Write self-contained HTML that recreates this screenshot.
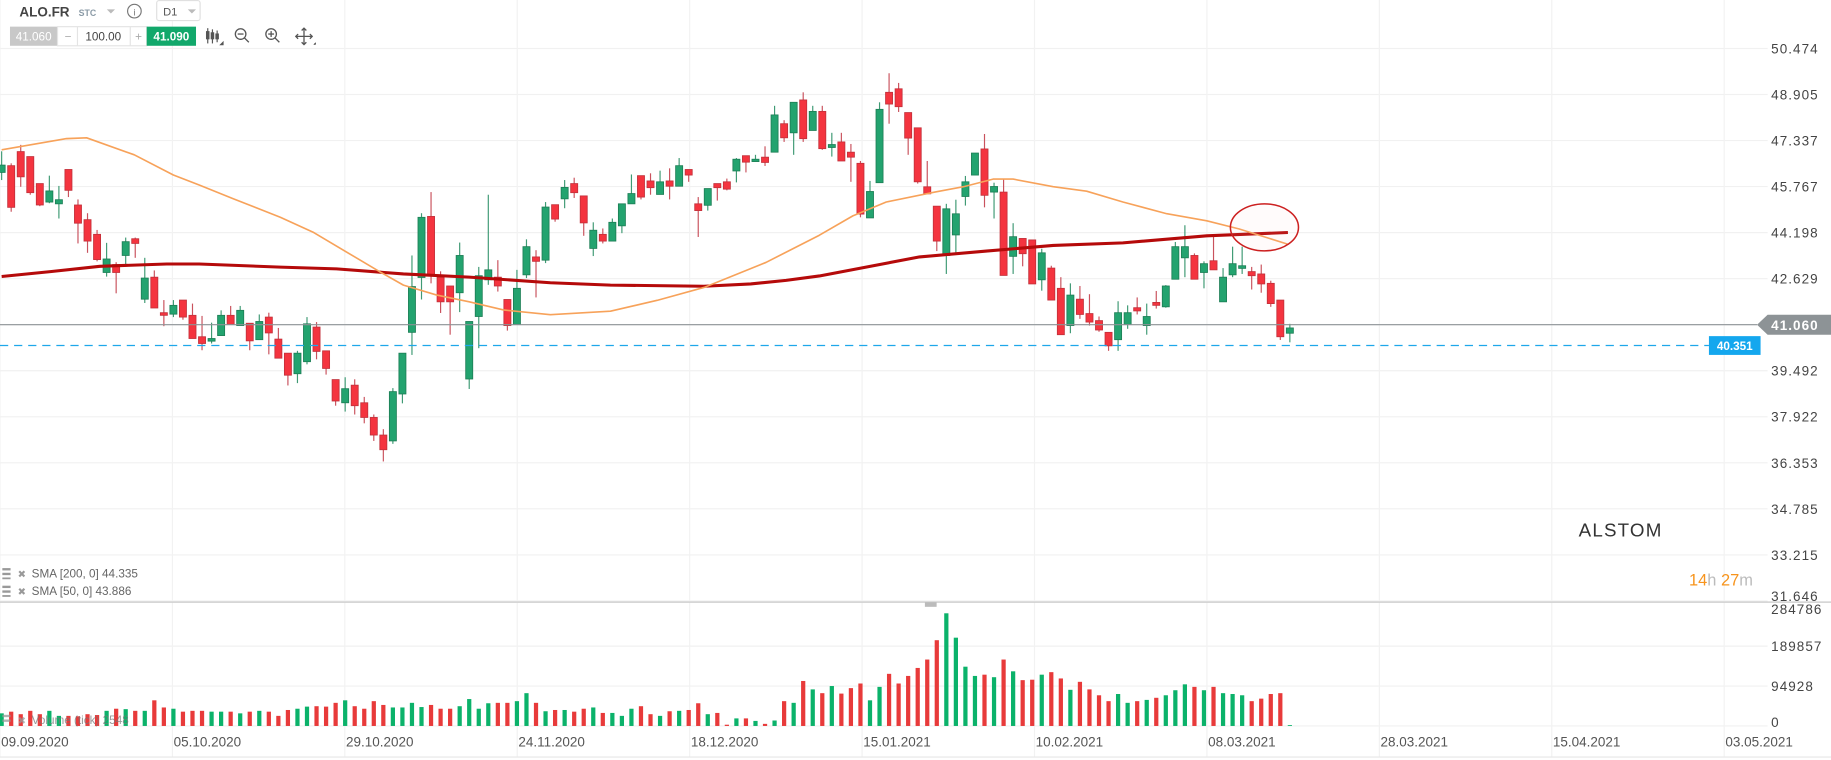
<!DOCTYPE html>
<html><head><meta charset="utf-8"><style>
html,body{margin:0;padding:0;background:#fff;overflow:hidden}
svg{display:block;font-family:"Liberation Sans",Arial,sans-serif}
</style></head><body>
<svg id="chart" width="1831" height="760" viewBox="0 0 1560 647.5" preserveAspectRatio="none">
<g id="grid"></g>
<g id="vol"></g>
<g id="candles"></g>
<g id="smas"></g>
<g id="axes"></g>
<line x1="0" y1="513" x2="1560" y2="513" stroke="#d0d0d0" stroke-width="1.2"/>
<rect x="788" y="513" width="10" height="4" fill="#bbb"/>
<line x1="0" y1="645" x2="1560" y2="645" stroke="#e6e6e6" stroke-width="1"/>
<ellipse cx="1077.3" cy="193.7" rx="29" ry="20" fill="rgba(255,200,200,0.07)" stroke="#cc2020" stroke-width="1.3"/>
<g>
<text x="16.5" y="14" font-size="11.5" font-weight="bold" fill="#444">ALO.FR</text>
<text x="67" y="13.5" font-size="7.5" font-weight="bold" fill="#8a9aa6">STC</text>
<path d="M91 8 L98 8 L94.5 11.5 Z" fill="#bbb"/>
<g><circle cx="114.5" cy="9.5" r="5.8" fill="none" stroke="#777" stroke-width="1"/><text x="114.5" y="13" font-size="8" text-anchor="middle" fill="#777">i</text></g>
<g><rect x="133.5" y="0.5" width="37" height="17" rx="2" fill="#fff" stroke="#e0e0e0"/><text x="139" y="13" font-size="9.5" fill="#555">D1</text><path d="M160 8 L167 8 L163.5 11.5 Z" fill="#bbb"/></g>
<g><rect x="8.5" y="22.7" width="40.5" height="16.3" fill="#c8c8c8"/><text x="28.7" y="34.5" font-size="10" text-anchor="middle" fill="#fff">41.060</text></g>
<g><rect x="49" y="22.7" width="76" height="16.3" fill="#fff" stroke="#e4e4e4"/><line x1="66" y1="22.7" x2="66" y2="39" stroke="#e4e4e4"/><line x1="111" y1="22.7" x2="111" y2="39" stroke="#e4e4e4"/><text x="58" y="34.5" font-size="10" text-anchor="middle" fill="#aaa">−</text><text x="88" y="34.5" font-size="10" text-anchor="middle" fill="#444">100.00</text><text x="118" y="34.5" font-size="10" text-anchor="middle" fill="#aaa">+</text></g>
<g><rect x="125" y="22.7" width="42" height="16.3" fill="#12a86b"/><text x="146" y="34.5" font-size="10" text-anchor="middle" fill="#fff" font-weight="bold">41.090</text></g>
<g stroke="#555" stroke-width="1"><line x1="177" y1="24" x2="177" y2="37"/><rect x="176" y="27" width="2" height="6" fill="#555"/><line x1="181" y1="25" x2="181" y2="37"/><rect x="180" y="28" width="2" height="5" fill="#555"/><line x1="185" y1="26" x2="185" y2="36"/><rect x="184" y="29" width="2" height="4" fill="#555"/><path d="M188 38 L190 38 L190 36Z" fill="#222"/></g>
<g stroke="#555" stroke-width="1.1" fill="none"><circle cx="205" cy="29" r="4.5"/><line x1="208.3" y1="32.3" x2="212" y2="36"/><line x1="202.5" y1="29" x2="207.5" y2="29"/></g>
<g stroke="#555" stroke-width="1.1" fill="none"><circle cx="231" cy="29" r="4.5"/><line x1="234.3" y1="32.3" x2="238" y2="36"/><line x1="228.5" y1="29" x2="233.5" y2="29"/><line x1="231" y1="26.5" x2="231" y2="31.5"/></g>
<g stroke="#555" stroke-width="1.1" fill="none"><line x1="252" y1="31" x2="266" y2="31"/><line x1="259" y1="24" x2="259" y2="38"/><path d="M257 26 L259 24 L261 26 M257 36 L259 38 L261 36 M254 29 L252 31 L254 33 M264 29 L266 31 L264 33"/><path d="M267 38 L269 38 L269 36Z" fill="#222" stroke="none"/></g>
</g>
<g><rect x="2" y="484" width="7" height="2" fill="#999"/><rect x="2" y="488" width="7" height="2" fill="#999"/><rect x="2" y="492" width="7" height="1.5" fill="#999"/><text x="15" y="492" font-size="8.5" fill="#999">✖</text><text x="27" y="492" font-size="10" fill="#666">SMA [200, 0] 44.335</text></g>
<g><rect x="2" y="499" width="7" height="2" fill="#999"/><rect x="2" y="503" width="7" height="2" fill="#999"/><rect x="2" y="507" width="7" height="1.5" fill="#999"/><text x="15" y="507" font-size="8.5" fill="#999">✖</text><text x="27" y="507" font-size="10" fill="#666">SMA [50, 0] 43.886</text></g>
<g opacity="0.75"><rect x="2" y="609" width="7" height="2" fill="#999"/><rect x="2" y="613" width="7" height="2" fill="#999"/><text x="15" y="617" font-size="8.5" fill="#999">✖</text><text x="27" y="617" font-size="10" fill="#777">Volume (tick) 2548</text></g>
<text x="1345" y="457" font-size="16" letter-spacing="1" fill="#333">ALSTOM</text>
<text x="1439" y="499" font-size="14"><tspan fill="#f7941d">14</tspan><tspan fill="#bbb">h </tspan><tspan fill="#f7941d">27</tspan><tspan fill="#bbb">m</tspan></text>
</svg>
<script>
const opens=[46.25,46.48,46.96,46.79,45.87,45.24,45.18,46.35,45.14,44.64,44.14,42.84,43.11,43.42,43.99,41.93,42.68,41.47,41.42,41.90,41.38,40.65,40.50,40.69,41.38,41.03,41.11,40.55,41.32,40.57,40.09,39.39,39.80,40.98,40.17,39.19,38.40,39.00,38.40,37.90,37.30,37.10,38.70,40.80,42.67,44.75,42.68,42.38,42.15,39.21,41.34,42.59,42.68,41.92,41.07,42.76,43.37,43.26,45.15,45.35,45.87,45.45,43.66,44.14,43.91,44.43,45.18,46.14,45.96,45.50,45.96,45.78,46.35,45.18,45.13,45.87,45.93,46.30,46.82,46.62,46.77,46.94,47.91,47.60,48.72,47.68,48.33,47.10,47.29,46.94,46.56,44.70,45.90,48.98,49.10,48.29,47.77,45.76,45.10,43.42,44.12,45.43,46.16,47.05,45.58,45.58,43.39,44.00,43.95,42.59,42.99,42.30,41.03,41.93,41.44,41.20,40.80,40.55,41.07,41.64,41.03,41.82,41.67,42.61,43.34,43.42,42.84,43.24,41.84,42.76,42.98,42.87,42.79,42.47,41.90,40.77];
const closes=[46.50,45.06,46.10,45.56,45.14,45.62,45.32,45.64,44.52,43.91,43.28,43.30,42.84,43.89,43.83,42.65,41.63,41.38,41.72,41.32,40.59,40.42,40.59,41.38,41.07,41.55,40.51,41.17,40.78,39.92,39.34,40.09,41.09,40.15,39.57,38.46,38.88,38.30,37.90,37.30,36.80,38.78,40.09,42.36,44.72,42.73,41.84,41.84,43.42,41.17,42.73,42.93,42.38,41.03,42.30,43.72,43.22,45.07,44.66,45.74,45.56,44.53,44.28,43.91,44.55,45.18,45.53,45.41,45.73,45.93,45.78,46.48,46.16,44.95,45.70,45.73,45.68,46.70,46.60,46.70,46.59,48.21,47.43,48.64,47.40,48.33,47.06,47.20,46.64,46.77,44.83,45.60,48.40,48.58,48.49,47.42,45.93,45.52,43.91,45.01,44.84,45.93,46.91,45.47,45.77,42.74,44.06,43.48,42.45,43.51,41.90,40.72,42.07,41.41,41.15,40.88,40.34,41.47,41.47,41.53,41.34,41.72,42.38,43.72,43.72,42.61,43.14,42.93,42.68,43.14,43.07,42.73,42.45,41.78,40.65,40.95];
const highs=[46.97,46.56,47.19,46.79,45.87,46.14,45.79,46.35,45.33,44.86,44.29,43.85,43.19,44.03,44.03,43.34,42.91,41.90,41.90,41.90,41.78,41.36,41.13,41.55,41.70,41.70,41.11,41.41,41.47,40.95,40.09,40.17,41.32,41.15,40.17,39.19,39.27,39.20,38.60,38.00,37.50,38.90,40.09,43.42,44.86,45.58,42.88,42.38,43.86,41.17,43.03,45.49,43.26,41.92,42.93,43.97,43.60,45.24,45.15,45.99,46.07,45.45,44.55,44.34,44.68,45.18,46.18,46.14,46.22,46.31,46.39,46.74,46.35,45.41,45.70,45.87,46.04,46.74,46.82,46.85,47.14,48.52,48.03,48.64,48.98,48.52,48.52,47.60,47.60,47.22,46.64,45.96,48.64,49.63,49.30,48.29,47.77,46.64,45.10,45.18,45.32,46.13,46.91,47.56,45.90,46.04,44.52,44.00,43.95,43.65,43.07,42.68,42.47,42.38,42.10,41.34,40.80,41.86,41.72,41.99,41.78,42.21,42.41,43.88,44.45,43.49,43.22,44.09,42.99,43.72,43.72,43.03,43.11,42.56,41.90,41.09];
const lows=[45.99,44.91,45.76,45.49,45.10,45.20,44.68,45.41,43.83,43.51,43.22,42.70,42.13,43.11,43.34,41.80,41.63,41.01,41.32,41.23,40.59,40.19,40.42,40.69,41.07,41.03,40.19,40.55,40.05,39.92,38.99,39.07,39.71,39.88,39.36,38.30,38.10,38.00,37.70,37.10,36.40,37.00,38.38,40.03,41.92,42.47,41.46,40.72,41.49,38.87,40.26,42.42,42.19,40.86,41.07,42.65,41.99,43.16,44.57,45.03,45.38,44.09,43.40,43.83,43.91,44.18,45.18,45.33,45.49,45.50,45.33,45.78,45.93,44.05,44.95,45.29,45.64,45.91,46.25,46.62,46.47,46.94,47.29,46.85,47.29,47.68,47.02,46.79,46.64,45.93,44.72,44.70,45.90,47.91,48.31,46.85,45.87,45.52,43.57,42.79,43.51,45.12,46.16,45.06,44.68,42.74,42.79,43.05,42.45,42.22,41.90,40.72,40.77,41.26,41.03,40.82,40.17,40.17,40.92,41.41,40.72,41.61,41.64,42.61,42.68,42.61,42.30,42.93,41.84,42.68,42.79,42.26,42.15,41.67,40.54,40.46];
const volumesK=[30,34,28,36,28,36,24,24,23,28,26,36,41,40,36,36,61,44,41,34,36,36,34,34,34,30,34,36,34,24,38,41,46,47,46,55,61,47,41,59,50,44,44,55,45,50,41,41,47,64,41,54,55,55,59,78,55,35,38,38,34,41,44,31,31,24,41,47,28,24,35,36,38,54,28,31,3,18,18,12,5,13,59,55,107,87,78,95,77,90,101,61,93,124,101,119,138,158,204,268,210,141,119,122,116,158,130,109,110,122,128,113,86,105,87,73,59,76,55,59,62,67,73,85,99,93,85,93,78,76,73,59,65,76,78,2];
const sma50Idx=[0,6.8,8.9,13.9,18,20.7,24.3,29.2,32.7,36.9,39.6,42.1,45.6,49,52.6,57.5,63.8,68.7,73.6,80.1,85.7,89.2,92.7,97.8,100.8,103.9,106,110.2,113.7,117.5,122.1,126.3,129.7,134.8];
const sma50Val=[47.02,47.40,47.43,46.85,46.16,45.82,45.35,44.72,44.20,43.39,42.87,42.41,42.07,41.84,41.56,41.40,41.52,41.89,42.33,43.18,44.11,44.77,45.24,45.58,45.76,46.02,46.02,45.76,45.61,45.24,44.84,44.60,44.32,43.80];
const sma200Idx=[0,5.1,10.3,17.3,20.7,29.2,35.1,42.1,49,57.5,63.8,73.6,78.5,82.2,85.7,91,96.2,103.2,110.2,117.5,126.3,134.8];
const sma200Val=[42.70,42.87,43.05,43.13,43.13,43.02,42.96,42.79,42.68,42.49,42.41,42.37,42.45,42.57,42.72,43.05,43.37,43.57,43.76,43.85,44.09,44.20];
const priceTicks=[50.474,48.905,47.337,45.767,44.198,42.629,39.492,37.922,36.353,34.785,33.215,31.646];
const volTicks=[284786,189857,94928,0];
const dateLabels=["09.09.2020","05.10.2020","29.10.2020","24.11.2020","18.12.2020","15.01.2021","10.02.2021","08.03.2021","28.03.2021","15.04.2021","03.05.2021"];
const lastPrice=41.060, minLine=40.351;

const NS="http://www.w3.org/2000/svg";
const xS=i=>1.4+8.13*i;
const yS=p=>41.3+(50.474-p)*25.0;
const vS=v=>618.5-v/94928*34;
function mk(tag,attrs,parent){const e=document.createElementNS(NS,tag);for(const k in attrs)e.setAttribute(k,attrs[k]);parent.appendChild(e);return e;}
const G=id=>document.getElementById(id);
const grid=G('grid'),vol=G('vol'),cg=G('candles'),sg=G('smas'),ax=G('axes');

priceTicks.concat([lastPrice]).forEach(p=>{
 const l=mk('line',{x1:0,x2:1506,y1:yS(p),y2:yS(p),stroke:'#f1f1f1','stroke-width':1},grid);
 
 
});
volTicks.slice(1).forEach(v=>{
 const l=mk('line',{x1:0,x2:1506,y1:vS(v),y2:vS(v),stroke:'#f1f1f1','stroke-width':1},grid);
 
 
});
dateLabels.forEach((d,k)=>{
 const x=k*146.9;
 const l=mk('line',{x1:x,x2:x,y1:0,y2:645,stroke:'#f2f2f2','stroke-width':1},grid);
 
 
 const t=mk('text',{x:x+1,y:636,'font-size':11.5,fill:'#555'},ax);
 t.textContent=d;
 
 
});
priceTicks.forEach(p=>{
 const y=Math.min(yS(p),508);
 const t=mk('text',{x:1509,y:y+4.2,'font-size':11.5,'letter-spacing':0.9,fill:'#444'},ax);
 t.textContent=p.toFixed(3);
 
 
});
volTicks.forEach(v=>{
 const y=Math.max(vS(v),519);
 const t=mk('text',{x:1509,y:(v===0?615:y)+4.2,'font-size':11.5,'letter-spacing':0.9,fill:'#444'},ax);
 t.textContent=String(v);
 
 
});
const pl=mk('line',{x1:0,x2:1497,y1:yS(lastPrice),y2:yS(lastPrice),stroke:'#8d9396','stroke-width':1},ax);


const yl=yS(lastPrice);
const pb=mk('path',{d:`M1497 ${yl} L1506 ${yl-8.5} L1560 ${yl-8.5} L1560 ${yl+8.5} L1506 ${yl+8.5} Z`,fill:'#8d9396'},ax);


const pt=mk('text',{x:1509,y:yl+4.5,'font-size':11.5,'letter-spacing':0.9,fill:'#fff','font-weight':'bold'},ax);
pt.textContent=lastPrice.toFixed(3);


const ym=yS(minLine);
const ml=mk('line',{x1:0,x2:1456,y1:ym,y2:ym,stroke:'#1ea7ea','stroke-width':1,'stroke-dasharray':'7,5'},ax);


const mb=mk('rect',{x:1456,y:ym-8,width:44,height:16,fill:'#14a7ee'},ax);


const mt=mk('text',{x:1478,y:ym+4,'font-size':10,'text-anchor':'middle',fill:'#fff','font-weight':'bold'},ax);
mt.textContent=minLine.toFixed(3);



opens.forEach((o,i)=>{
 const c=closes[i],h=highs[i],l=lows[i],up=c>=o,x=xS(i);
 const w=mk('line',{x1:x,x2:x,y1:yS(h),y2:yS(l),stroke:up?'#3f9a74':'#c9525d','stroke-width':1},cg);
 
 
 const top=yS(Math.max(o,c)),bot=yS(Math.min(o,c));
 const b=mk('rect',{x:x-3,y:top,width:6,height:Math.max(bot-top,1.2),fill:up?'#23a36f':'#f4343f',stroke:up?'#1c7e55':'#c2303a','stroke-width':0.7},cg);
 
 
 const v=volumesK[i]*1000;
 const vb=mk('rect',{x:x-1.8,y:vS(v),width:3.6,height:vS(0)-vS(v),fill:up?'#0bb26a':'#e83a3a'},vol);
 
 
});
function line(idx,vals,color,wd,name){
 const d=idx.map((i,k)=>(k?'L':'M')+xS(i).toFixed(1)+' '+yS(vals[k]).toFixed(1)).join(' ');
 const p=mk('path',{d:d,fill:'none',stroke:color,'stroke-width':wd,'stroke-linejoin':'round'},sg);
 
 
}
line(sma200Idx,sma200Val,'#b50a0a',2.6,'sma200-line');
line(sma50Idx,sma50Val,'#f7a25a',1.4,'sma50-line');
</script>
</body></html>
